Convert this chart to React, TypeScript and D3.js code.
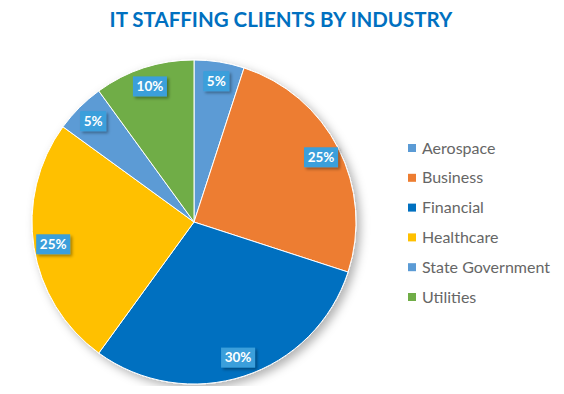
import React, { useEffect, useRef } from 'react';
import * as d3 from 'd3';

const categories = ['Aerospace', 'Business', 'Financial', 'Healthcare', 'State Government', 'Utilities'];
const values = [5, 25, 30, 25, 5, 10];
const colors = ['#5b9bd5', '#ed7d31', '#0070c0', '#ffc000', '#5b9bd5', '#70ad47'];

export default function App() {
    const ref = useRef<SVGSVGElement | null>(null);

    useEffect(() => {
        const svg = d3.select(ref.current);
        svg.selectAll('*').remove();
        const width = 564, height = 394;
        const cx = 194, cy = 222, r = 162;
        const font = 'Lato, "Open Sans", sans-serif';

        const defs = svg.append('defs');
        const sh = defs.append('filter').attr('id', 'pieShadow').attr('x', '-20%').attr('y', '-20%').attr('width', '140%').attr('height', '140%');
        sh.append('feDropShadow').attr('dx', 4).attr('dy', 4).attr('stdDeviation', 5).attr('flood-color', '#000').attr('flood-opacity', 0.3);
        const lsh = defs.append('filter').attr('id', 'lblShadow').attr('x', '-30%').attr('y', '-30%').attr('width', '160%').attr('height', '160%');
        lsh.append('feDropShadow').attr('dx', 2).attr('dy', 2).attr('stdDeviation', 1.5).attr('flood-color', '#000').attr('flood-opacity', 0.35);

        svg.append('rect').attr('width', width).attr('height', height).attr('fill', '#fff');

        svg.append('text')
            .attr('x', 281).attr('y', 27)
            .attr('text-anchor', 'middle')
            .attr('font-family', font)
            .attr('font-weight', 700)
            .attr('font-size', 20.5)
            .attr('fill', '#0070c0')
            .text('IT STAFFING CLIENTS BY INDUSTRY');

        const pie = d3.pie<number>().sort(null).value(d => d);
        const arcs = pie(values);
        const arc = d3.arc<d3.PieArcDatum<number>>().innerRadius(0).outerRadius(r);
        const labelArc = d3.arc<d3.PieArcDatum<number>>().innerRadius(r * 0.88).outerRadius(r * 0.88);

        const g = svg.append('g').attr('transform', `translate(${cx},${cy})`);
        g.append('g').attr('filter', 'url(#pieShadow)')
            .selectAll('path').data(arcs).join('path')
            .attr('d', arc as any)
            .attr('fill', (_d, i) => colors[i])
            .attr('stroke', '#fff')
            .attr('stroke-width', 1);

        const total = d3.sum(values);
        const lbl = g.selectAll('g.lbl').data(arcs).join('g')
            .attr('class', 'lbl')
            .attr('transform', d => `translate(${labelArc.centroid(d)})`);
        lbl.append('rect')
            .attr('x', d => (d.data >= 10 ? -17 : -13))
            .attr('y', -10)
            .attr('width', d => (d.data >= 10 ? 34 : 26))
            .attr('height', 20)
            .attr('fill', '#3a9fdb')
            .attr('filter', 'url(#lblShadow)');
        lbl.append('text')
            .attr('text-anchor', 'middle')
            .attr('dy', '0.36em')
            .attr('font-family', font)
            .attr('font-weight', 700)
            .attr('font-size', 13.5)
            .attr('fill', '#fff')
            .text(d => `${Math.round((d.data / total) * 100)}%`);

        const legend = svg.append('g');
        const ly = d3.scalePoint<string>().domain(categories).range([148, 297]);
        const item = legend.selectAll('g').data(categories).join('g')
            .attr('transform', d => `translate(408,${ly(d)})`);
        item.append('rect').attr('x', 0).attr('y', -4).attr('width', 8).attr('height', 8)
            .attr('fill', (_d, i) => colors[i]);
        item.append('text')
            .attr('x', 14).attr('dy', '0.35em')
            .attr('font-family', font)
            .attr('font-size', 16)
            .attr('fill', '#666')
            .text(d => d);
    }, []);

    return <svg ref={ref} width={564} height={394} style={{ display: 'block', margin: '-8px' }} />;
}
